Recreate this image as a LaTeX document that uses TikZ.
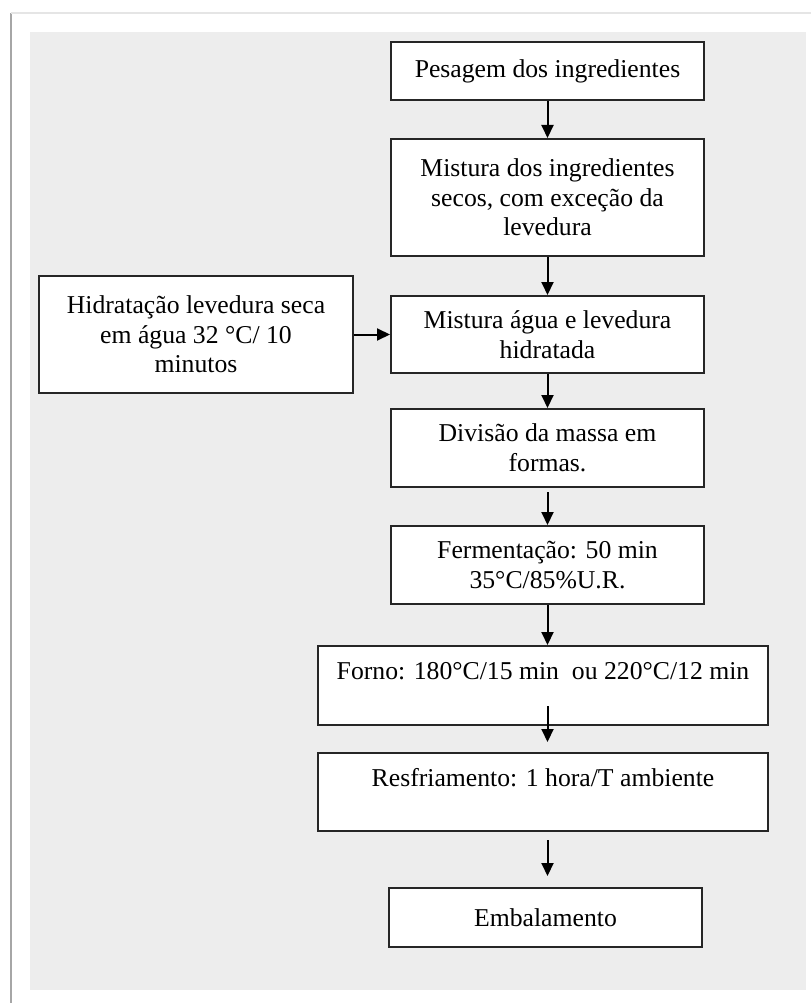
\documentclass[tikz,border=0pt]{standalone}
\usepackage{fontspec}
\setmainfont{Liberation Serif}
\usetikzlibrary{positioning,arrows.meta}

\tikzset{
  etapa/.style={draw=black!85, line width=2pt, fill=white, align=center,
    inner sep=0pt, minimum width=313pt, font=\fontsize{25.7}{29.5}\selectfont},
  seta/.style={line width=2pt, -{Triangle[length=13pt,width=12pt]}}
}

\begin{document}
\begin{tikzpicture}[x=1pt,y=1pt]
    \useasboundingbox (0,0) rectangle (811,-1003);

    % panel
    \fill[black!7] (30,-32) rectangle (806,-990);
    \draw[black!35, line width=2.5pt] (11,-1003) -- (11,-13);
    \draw[black!10, line width=1.5pt] (11,-13) -- (811,-13);

    % main line
    \node[etapa, minimum height=58pt] (pes) at (547.5,-71) {Pesagem dos ingredientes};
    \node[etapa, minimum height=117pt] (sec) at (547.5,-197.5) {Mistura dos ingredientes\\secos, com exceção da\\levedura};
    \node[etapa, minimum height=77pt] (agu) at (547.5,-334.5) {Mistura água e levedura\\hidratada};
    \node[etapa, minimum height=78pt] (div) at (547.5,-448) {Divisão da massa em\\formas.};
    \node[etapa, minimum height=78pt] (fer) at (547.5,-565) {Fermentação: 50 min\\35°C/85\%U.R.};
    \node[etapa, minimum height=79pt, minimum width=450pt] (for) at (543,-685.5) {Forno: 180°C/15 min\ \ ou 220°C/12 min\\\mbox{}};
    \node[etapa, minimum height=78pt, minimum width=450pt] (res) at (543,-792) {Resfriamento: 1 hora/T ambiente\\\mbox{}};
    \node[etapa, minimum height=59pt] (emb) at (545.5,-917.5) {Embalamento};

    % yeast
    \node[etapa, minimum height=117pt, minimum width=314pt] (hid) at (196,-334.5) {Hidratação levedura seca\\em água 32 °C/ 10\\minutos};

    % arrows
    \draw[seta] (pes) -- (sec);
    \draw[seta] (sec) -- (agu);
    \draw[seta] (hid) -- (agu);
    \draw[seta] (agu) -- (div);
    \draw[seta, shorten <=4pt] (div) -- (fer);
    \draw[seta] (fer.south) -- (for.north -| fer.south);
    \draw[seta, shorten <=-20pt, shorten >=10pt] (for.south -| fer.south) -- (res.north -| fer.south);
    \draw[seta, shorten <=8pt, shorten >=11pt] (res.south -| fer.south) -- (emb.north -| fer.south);
\end{tikzpicture}
\end{document}
